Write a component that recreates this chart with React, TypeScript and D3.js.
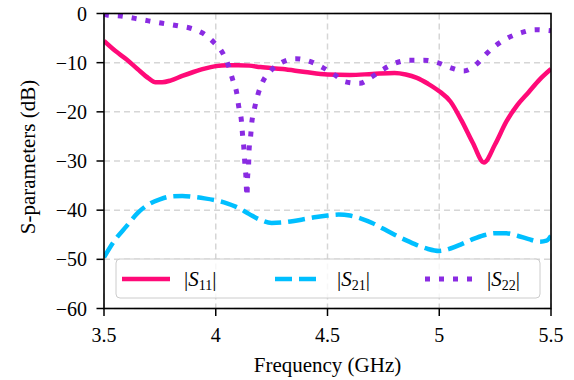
import * as d3 from "d3";

// S11
const freqS11 = [3.5, 3.55, 3.6, 3.65, 3.7, 3.73, 3.76, 3.8, 3.85, 3.9, 3.95, 4.0, 4.05, 4.1, 4.15, 4.2, 4.3, 4.4, 4.5, 4.6, 4.7, 4.8, 4.85, 4.9, 4.95, 5.0, 5.05, 5.1, 5.15, 5.2, 5.25, 5.3, 5.35, 5.4, 5.45, 5.5];
const s11 = [-5.6, -7.6, -9.3, -11.3, -13.2, -14.0, -14.0, -13.6, -12.7, -11.9, -11.2, -10.7, -10.5, -10.5, -10.6, -10.9, -11.3, -11.9, -12.4, -12.5, -12.3, -12.1, -12.4, -13.1, -14.3, -15.8, -17.9, -21.8, -26.3, -30.3, -26.6, -22.0, -18.6, -16.0, -13.4, -11.3];

// S21
const freqS21 = [3.5, 3.55, 3.6, 3.65, 3.7, 3.75, 3.8, 3.85, 3.9, 3.95, 4.0, 4.05, 4.1, 4.15, 4.2, 4.25, 4.3, 4.35, 4.4, 4.45, 4.5, 4.55, 4.6, 4.65, 4.7, 4.75, 4.8, 4.85, 4.9, 4.95, 5.0, 5.05, 5.1, 5.15, 5.2, 5.25, 5.3, 5.35, 5.4, 5.45, 5.48, 5.5];
const s21 = [-49.6, -46.0, -43.3, -40.6, -38.8, -37.8, -37.2, -37.1, -37.3, -37.6, -38.0, -38.6, -39.5, -40.8, -42.0, -42.6, -42.5, -42.2, -41.8, -41.4, -41.1, -40.9, -41.1, -41.7, -42.6, -43.8, -45.0, -46.1, -47.1, -47.9, -48.3, -47.8, -46.9, -45.9, -45.1, -44.7, -44.7, -45.2, -45.9, -46.4, -46.2, -45.2];

// S22
const freqS22 = [3.5, 3.513, 3.576, 3.638, 3.699, 3.762, 3.83, 3.888, 3.942, 3.992, 4.032, 4.059, 4.076, 4.094, 4.103, 4.115, 4.12, 4.126, 4.13, 4.135, 4.138, 4.14, 4.142, 4.147, 4.149, 4.156, 4.161, 4.173, 4.188, 4.21, 4.245, 4.297, 4.358, 4.412, 4.479, 4.532, 4.581, 4.644, 4.698, 4.751, 4.809, 4.867, 4.93, 4.992, 5.055, 5.109, 5.167, 5.211, 5.256, 5.31, 5.368, 5.43, 5.5];
const s22 = [-0.1, -0.3, -0.5, -1.0, -1.5, -2.0, -2.5, -3.0, -4.0, -5.9, -8.1, -10.9, -13.5, -16.2, -19.0, -21.9, -24.7, -27.5, -30.4, -33.2, -36.3, -37.2, -33.7, -30.8, -27.9, -25.0, -22.3, -19.4, -16.6, -13.9, -11.7, -9.9, -9.2, -9.6, -11.0, -12.5, -13.9, -14.2, -12.9, -11.3, -10.0, -9.5, -9.5, -10.0, -11.1, -11.7, -10.3, -8.2, -6.4, -4.9, -3.9, -3.3, -3.5];

const xTicks = [3.5, 4, 4.5, 5, 5.5];
const xTickLabels = ["3.5", "4", "4.5", "5", "5.5"];
const yTicks = [0, -10, -20, -30, -40, -50, -60];

const W = 574;
const H = 380;
const left = 104;
const right = 551;
const top = 13.5;
const bottom = 308.5;
const font = "'Liberation Serif', 'Times New Roman', serif";

const x = d3.scaleLinear().domain([3.5, 5.5]).range([left, right]);
const y = d3.scaleLinear().domain([-60, 0]).range([bottom, top]);

const line = d3
  .line<[number, number]>()
  .x(d => x(d[0]))
  .y(d => y(d[1]))
  .curve(d3.curveMonotoneX);

const series = [
  { name: "11", f: freqS11, v: s11, color: "#ff0a78", width: 4.5, dash: "none" },
  { name: "21", f: freqS21, v: s21, color: "#00bfff", width: 4.5, dash: "17,7" },
  { name: "22", f: freqS22, v: s22, color: "#8a2be2", width: 5, dash: "5,9" },
];

const legendX = [122, 275, 425];

export default function App() {
  return (
    <svg
      width={W}
      height={H}
      style={{ position: "absolute", left: 0, top: 0, background: "#fff" }}
      fontFamily={font}
    >
      <defs>
        <clipPath id="plot">
          <rect x={left} y={top} width={right - left} height={bottom - top} />
        </clipPath>
      </defs>

      {/* grid */}
      <g stroke="#d6d6d6" strokeWidth={1.5} strokeDasharray="6,4">
        {xTicks.map(t => (
          <line key={"gx" + t} x1={x(t)} x2={x(t)} y1={top} y2={bottom} />
        ))}
        {yTicks.map(t => (
          <line key={"gy" + t} x1={left} x2={right} y1={y(t)} y2={y(t)} />
        ))}
      </g>

      {/* curves */}
      <g clipPath="url(#plot)" fill="none">
        {series.map(s => (
          <path
            key={s.name}
            d={line(s.f.map((f, i) => [f, s.v[i]] as [number, number])) || ""}
            stroke={s.color}
            strokeWidth={s.width}
            strokeDasharray={s.dash}
            strokeLinejoin="round"
          />
        ))}
      </g>

      {/* legend */}
      <rect x={116} y={259} width={424} height={39} rx={4} fill="#fff" fillOpacity={0.8} stroke="#cccccc" strokeWidth={1} />
      {series.map((s, i) => (
        <g key={"lg" + s.name}>
          <line
            x1={legendX[i]}
            x2={legendX[i] + 48}
            y1={279}
            y2={279}
            stroke={s.color}
            strokeWidth={s.width}
            strokeDasharray={s.dash}
          />
          <text x={legendX[i] + 62} y={286} fontSize={21} fill="#000">
            |<tspan fontStyle="italic">S</tspan>
            <tspan fontSize={14} dy={4}>{s.name}</tspan>
            <tspan dy={-4}>|</tspan>
          </text>
        </g>
      ))}

      {/* frame */}
      <rect x={left} y={top} width={right - left} height={bottom - top} fill="none" stroke="#000" strokeWidth={1.6} />

      {/* x axis */}
      {xTicks.map((t, i) => (
        <g key={"xt" + t}>
          <line x1={x(t)} x2={x(t)} y1={bottom} y2={bottom + 7.5} stroke="#000" strokeWidth={1.5} />
          <text x={x(t)} y={342} textAnchor="middle" fontSize={20} fill="#000">
            {xTickLabels[i]}
          </text>
        </g>
      ))}
      <text x={(left + right) / 2} y={372} textAnchor="middle" fontSize={21} fill="#000">
        Frequency (GHz)
      </text>

      {/* y axis */}
      {yTicks.map(t => (
        <g key={"yt" + t}>
          <line x1={left - 7.5} x2={left} y1={y(t)} y2={y(t)} stroke="#000" strokeWidth={1.5} />
          <text x={87} y={y(t)} dy="0.35em" textAnchor="end" fontSize={20} fill="#000">
            {t < 0 ? "\u2212" + Math.abs(t) : "0"}
          </text>
        </g>
      ))}
      <text
        transform={`translate(28, ${(top + bottom) / 2 - 4}) rotate(-90)`}
        textAnchor="middle"
        dy="0.35em"
        fontSize={21}
        fill="#000"
      >
        S-parameters (dB)
      </text>
    </svg>
  );
}
